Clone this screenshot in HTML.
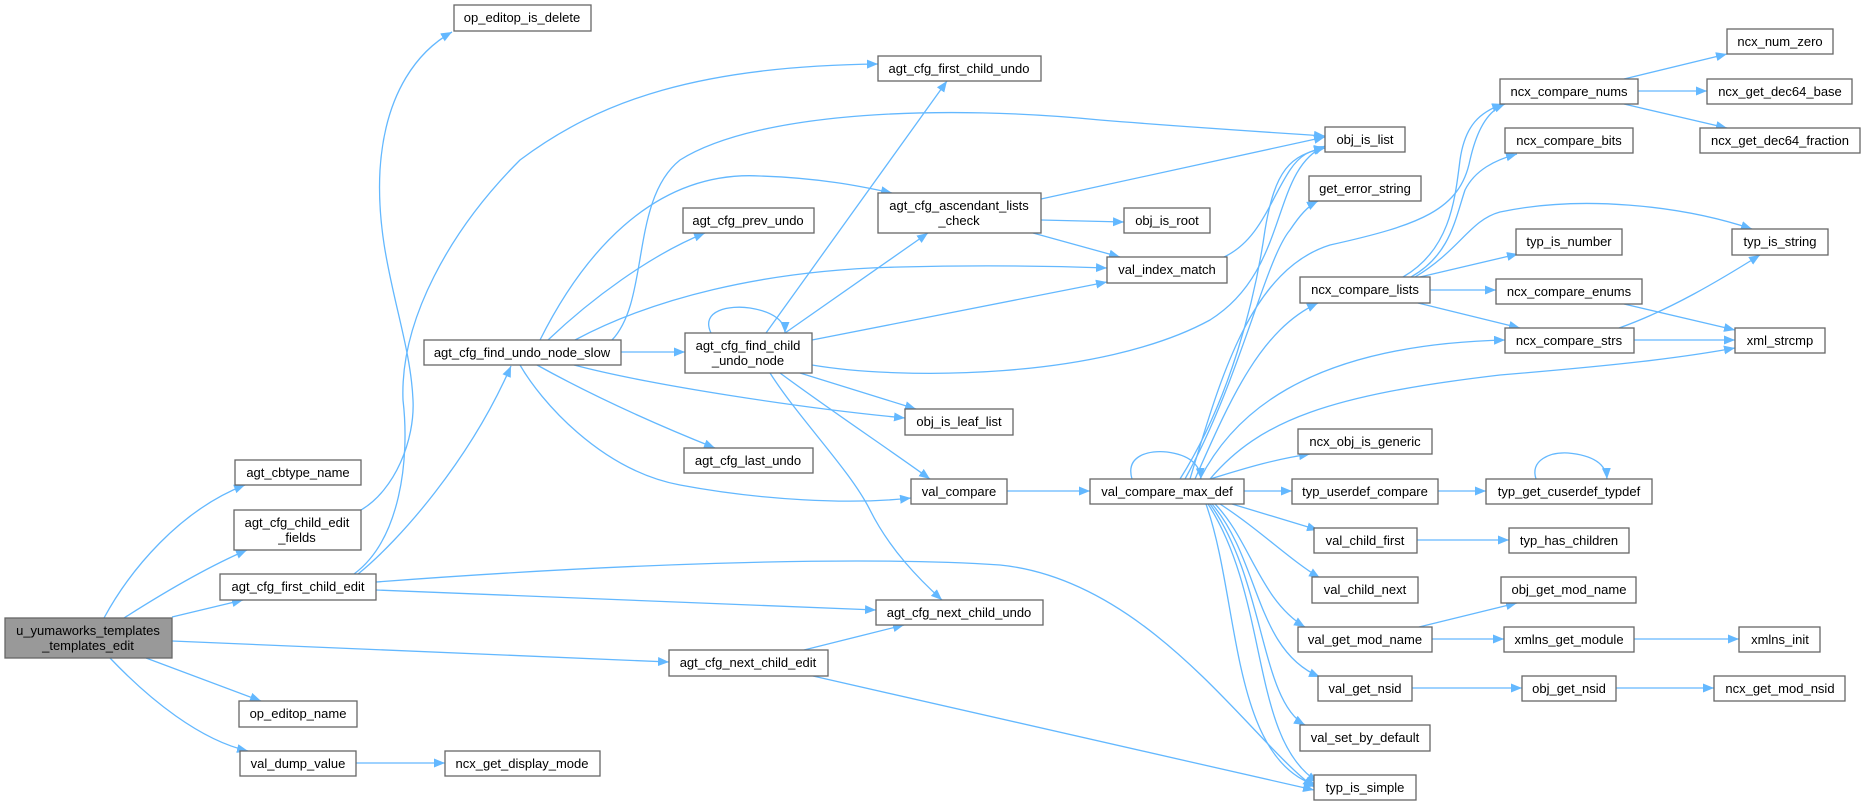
<!DOCTYPE html>
<html><head><meta charset="utf-8"><style>
html,body{margin:0;padding:0;background:#fff;}
svg{display:block;}
text{font-family:"Liberation Sans",Arial,sans-serif;font-size:13px;fill:#000;text-anchor:middle;}
.n{fill:#fff;stroke:#666;stroke-width:1.3;}
.e{fill:none;stroke:#63b8ff;stroke-width:1.3;}
</style></head><body>
<svg width="1865" height="805" viewBox="0 0 1865 805" xmlns="http://www.w3.org/2000/svg">
<defs><marker id="a" markerUnits="userSpaceOnUse" markerWidth="12" markerHeight="10" refX="11" refY="4.5" orient="auto"><path d="M0,0 L11,4.5 L0,9 z" fill="#63b8ff"/></marker></defs>
<g class="e" marker-end="url(#a)">
<path d="M104,618 C130,570 180,510 245,485"/>
<path d="M124,618 C160,595 205,568 247,550"/>
<path d="M172,617 L243,600"/>
<path d="M172,641 L669,662"/>
<path d="M146,658 L261,701"/>
<path d="M110,658 C150,700 200,740 248,751"/>
<path d="M356,763 L445,763"/>
<path d="M361,510 C395,490 415,440 413,400 C410,330 375,260 380,170 C385,90 420,50 452,32"/>
<path d="M354,574 C400,540 410,460 403,400 C400,320 450,230 520,160 C600,100 700,66 878,64"/>
<path d="M358,574 C400,540 470,460 511,366"/>
<path d="M376,590 L876,610"/>
<path d="M376,582 C600,565 850,555 1000,565 C1150,580 1250,740 1314,787"/>
<path d="M540,340 C580,260 650,170 760,176 C820,178 860,186 892,193"/>
<path d="M612,340 C650,300 630,200 680,160 C760,110 950,105 1100,120 C1200,128 1280,133 1325,136"/>
<path d="M548,340 C590,300 650,255 705,233"/>
<path d="M575,340 C650,300 760,270 900,267 C980,265 1050,266 1107,268"/>
<path d="M621,352 L685,352"/>
<path d="M574,365 C650,385 800,408 905,418"/>
<path d="M537,365 C600,400 670,430 715,448"/>
<path d="M520,365 C540,400 600,470 680,485 C760,500 850,505 911,498"/>
<path d="M711,333 C700,310 730,305 750,308 C775,312 785,322 785,333"/>
<path d="M766,333 L947,81"/>
<path d="M785,333 L928,233"/>
<path d="M812,340 L1107,282"/>
<path d="M812,365 C900,380 1100,380 1210,320 C1290,270 1270,170 1325,146"/>
<path d="M800,373 L916,409"/>
<path d="M780,373 C830,410 890,450 930,479"/>
<path d="M770,373 C800,420 850,470 870,510 C890,550 920,580 942,600"/>
<path d="M1041,199 L1325,137"/>
<path d="M1041,220 L1124,222"/>
<path d="M1033,233 L1120,257"/>
<path d="M1224,257 C1260,240 1270,200 1290,170 C1300,155 1310,150 1325,148"/>
<path d="M804,650 L904,625"/>
<path d="M813,676 L1314,790"/>
<path d="M1007,491 L1090,491"/>
<path d="M1132,479 C1125,455 1150,450 1167,452 C1190,455 1200,465 1201,479"/>
<path d="M1180,479 C1230,400 1255,300 1265,230 C1275,170 1290,155 1325,148"/>
<path d="M1185,479 C1240,380 1265,260 1290,230 C1300,215 1308,206 1318,201"/>
<path d="M1190,479 C1220,380 1250,270 1330,245 C1420,225 1460,210 1470,160 C1478,125 1490,110 1505,104"/>
<path d="M1195,479 C1230,400 1260,330 1318,303"/>
<path d="M1200,479 C1230,420 1300,345 1505,340"/>
<path d="M1210,479 C1260,420 1330,395 1500,375 C1620,365 1680,358 1735,348"/>
<path d="M1210,479 C1240,470 1270,460 1310,454"/>
<path d="M1244,491 L1292,491"/>
<path d="M1232,504 L1318,530"/>
<path d="M1220,504 C1260,530 1290,560 1320,578"/>
<path d="M1215,504 C1250,540 1260,600 1305,627"/>
<path d="M1212,504 C1260,560 1255,650 1320,677"/>
<path d="M1210,504 C1265,580 1260,700 1305,725"/>
<path d="M1208,504 C1270,600 1250,740 1318,782"/>
<path d="M1206,504 C1240,600 1230,760 1318,786"/>
<path d="M1403,277 C1450,250 1455,200 1460,160 C1465,125 1480,112 1503,104"/>
<path d="M1411,277 C1450,255 1455,220 1465,190 C1475,170 1495,160 1517,154"/>
<path d="M1415,277 C1460,250 1470,220 1500,212 C1580,195 1680,205 1752,229"/>
<path d="M1420,277 L1518,254"/>
<path d="M1430,290 L1496,290"/>
<path d="M1418,303 L1520,328"/>
<path d="M1624,79 L1727,54"/>
<path d="M1638,91 L1707,91"/>
<path d="M1624,104 L1727,128"/>
<path d="M1624,304 L1735,330"/>
<path d="M1634,340 L1735,340"/>
<path d="M1619,328 C1670,310 1720,280 1760,255"/>
<path d="M1438,491 L1486,491"/>
<path d="M1536,479 C1530,460 1550,452 1568,453 C1590,455 1606,462 1607,479"/>
<path d="M1417,540 L1509,540"/>
<path d="M1419,627 L1517,603"/>
<path d="M1432,639 L1504,639"/>
<path d="M1634,639 L1739,639"/>
<path d="M1412,688 L1522,688"/>
<path d="M1616,688 L1714,688"/>
</g>
<g>
<rect x="5" y="618" width="167" height="40" fill="#999" stroke="#666" stroke-width="1.3"/><text x="88" y="635">u_yumaworks_templates</text><text x="88" y="650">_templates_edit</text>
<rect class="n" x="235" y="460" width="126" height="25"/><text x="298" y="477">agt_cbtype_name</text>
<rect class="n" x="234" y="510" width="127" height="40"/><text x="297" y="527">agt_cfg_child_edit</text><text x="297" y="542">_fields</text>
<rect class="n" x="220" y="574" width="156" height="26"/><text x="298" y="591">agt_cfg_first_child_edit</text>
<rect class="n" x="239" y="701" width="118" height="26"/><text x="298" y="718">op_editop_name</text>
<rect class="n" x="240" y="751" width="116" height="25"/><text x="298" y="768">val_dump_value</text>
<rect class="n" x="445" y="751" width="155" height="25"/><text x="522" y="768">ncx_get_display_mode</text>
<rect class="n" x="454" y="5" width="137" height="26"/><text x="522" y="22">op_editop_is_delete</text>
<rect class="n" x="424" y="340" width="197" height="25"/><text x="522" y="357">agt_cfg_find_undo_node_slow</text>
<rect class="n" x="878" y="56" width="163" height="25"/><text x="959" y="73">agt_cfg_first_child_undo</text>
<rect class="n" x="683" y="208" width="131" height="25"/><text x="748" y="225">agt_cfg_prev_undo</text>
<rect class="n" x="878" y="193" width="163" height="40"/><text x="959" y="210">agt_cfg_ascendant_lists</text><text x="959" y="225">_check</text>
<rect class="n" x="1124" y="208" width="86" height="25"/><text x="1167" y="225">obj_is_root</text>
<rect class="n" x="1107" y="257" width="120" height="26"/><text x="1167" y="274">val_index_match</text>
<rect class="n" x="685" y="333" width="127" height="40"/><text x="748" y="350">agt_cfg_find_child</text><text x="748" y="365">_undo_node</text>
<rect class="n" x="905" y="409" width="108" height="26"/><text x="959" y="426">obj_is_leaf_list</text>
<rect class="n" x="684" y="448" width="129" height="25"/><text x="748" y="465">agt_cfg_last_undo</text>
<rect class="n" x="911" y="479" width="96" height="25"/><text x="959" y="496">val_compare</text>
<rect class="n" x="1090" y="479" width="154" height="25"/><text x="1167" y="496">val_compare_max_def</text>
<rect class="n" x="876" y="600" width="167" height="25"/><text x="959" y="617">agt_cfg_next_child_undo</text>
<rect class="n" x="669" y="650" width="159" height="26"/><text x="748" y="667">agt_cfg_next_child_edit</text>
<rect class="n" x="1325" y="127" width="80" height="25"/><text x="1365" y="144">obj_is_list</text>
<rect class="n" x="1309" y="176" width="112" height="25"/><text x="1365" y="193">get_error_string</text>
<rect class="n" x="1300" y="277" width="130" height="26"/><text x="1365" y="294">ncx_compare_lists</text>
<rect class="n" x="1298" y="429" width="134" height="25"/><text x="1365" y="446">ncx_obj_is_generic</text>
<rect class="n" x="1292" y="479" width="146" height="25"/><text x="1365" y="496">typ_userdef_compare</text>
<rect class="n" x="1314" y="528" width="103" height="25"/><text x="1365" y="545">val_child_first</text>
<rect class="n" x="1312" y="577" width="106" height="26"/><text x="1365" y="594">val_child_next</text>
<rect class="n" x="1298" y="627" width="134" height="25"/><text x="1365" y="644">val_get_mod_name</text>
<rect class="n" x="1318" y="676" width="94" height="25"/><text x="1365" y="693">val_get_nsid</text>
<rect class="n" x="1300" y="725" width="130" height="26"/><text x="1365" y="742">val_set_by_default</text>
<rect class="n" x="1314" y="775" width="102" height="25"/><text x="1365" y="792">typ_is_simple</text>
<rect class="n" x="1500" y="79" width="138" height="25"/><text x="1569" y="96">ncx_compare_nums</text>
<rect class="n" x="1505" y="128" width="128" height="25"/><text x="1569" y="145">ncx_compare_bits</text>
<rect class="n" x="1516" y="229" width="106" height="26"/><text x="1569" y="246">typ_is_number</text>
<rect class="n" x="1496" y="279" width="146" height="25"/><text x="1569" y="296">ncx_compare_enums</text>
<rect class="n" x="1505" y="328" width="129" height="25"/><text x="1569" y="345">ncx_compare_strs</text>
<rect class="n" x="1486" y="479" width="166" height="25"/><text x="1569" y="496">typ_get_cuserdef_typdef</text>
<rect class="n" x="1509" y="528" width="120" height="25"/><text x="1569" y="545">typ_has_children</text>
<rect class="n" x="1501" y="577" width="135" height="26"/><text x="1569" y="594">obj_get_mod_name</text>
<rect class="n" x="1504" y="627" width="130" height="25"/><text x="1569" y="644">xmlns_get_module</text>
<rect class="n" x="1522" y="676" width="94" height="25"/><text x="1569" y="693">obj_get_nsid</text>
<rect class="n" x="1727" y="29" width="106" height="25"/><text x="1780" y="46">ncx_num_zero</text>
<rect class="n" x="1707" y="79" width="145" height="25"/><text x="1780" y="96">ncx_get_dec64_base</text>
<rect class="n" x="1700" y="128" width="160" height="25"/><text x="1780" y="145">ncx_get_dec64_fraction</text>
<rect class="n" x="1732" y="229" width="96" height="26"/><text x="1780" y="246">typ_is_string</text>
<rect class="n" x="1735" y="328" width="90" height="25"/><text x="1780" y="345">xml_strcmp</text>
<rect class="n" x="1739" y="627" width="81" height="25"/><text x="1780" y="644">xmlns_init</text>
<rect class="n" x="1714" y="676" width="131" height="25"/><text x="1780" y="693">ncx_get_mod_nsid</text>
</g>
</svg>
</body></html>
